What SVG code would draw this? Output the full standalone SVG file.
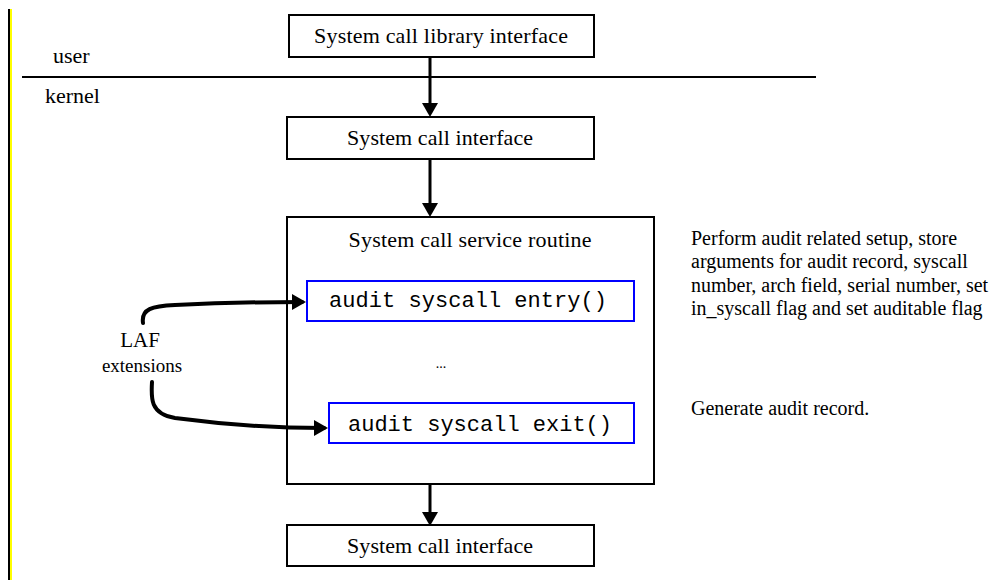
<svg xmlns="http://www.w3.org/2000/svg" width="997" height="580" viewBox="0 0 997 580">
<style>
.box{fill:#fff;stroke:#000;stroke-width:2}
.fbox{fill:#fff;stroke:#0000ff;stroke-width:2}
.t{font-family:"Liberation Serif","Times New Roman",serif;fill:#000}
.m{font-family:"Liberation Mono","Courier New",monospace;font-size:22px;fill:#000}
.c{stroke:#000;stroke-width:3;fill:none}
.cv{stroke:#000;stroke-width:4;fill:none;stroke-linecap:round;stroke-linejoin:round}
</style>
<defs>
<marker id="ah" viewBox="0 0 14 16" markerWidth="14" markerHeight="16" refX="10" refY="8" markerUnits="userSpaceOnUse" orient="auto">
<path d="M0,0 L14,8 L0,16 z" fill="#000"/>
</marker>
</defs>
<rect width="997" height="580" fill="#fff"/>
<g id="margin">
<rect x="8" y="9" width="2" height="571" fill="#000"/>
<rect x="10" y="9" width="2" height="571" fill="#ffff00"/>
</g>
<g id="divider">
<line x1="22" y1="77" x2="816" y2="77" stroke="#000" stroke-width="2"/>
<text class="t" x="53" y="63" font-size="22">user</text>
<text class="t" x="45" y="103" font-size="22">kernel</text>
</g>
<g id="lib">
<rect class="box" x="289" y="15" width="305" height="42"/>
<text class="t" x="441" y="43" font-size="22" text-anchor="middle" textLength="254" lengthAdjust="spacing">System call library interface</text>
</g>
<g id="sci1">
<rect class="box" x="287" y="117" width="307" height="42"/>
<text class="t" x="440" y="145" font-size="22" text-anchor="middle" textLength="186" lengthAdjust="spacing">System call interface</text>
</g>
<g id="service">
<rect class="box" x="287" y="217" width="367" height="267"/>
<text class="t" x="470" y="247" font-size="22" text-anchor="middle" textLength="243" lengthAdjust="spacing">System call service routine</text>
<text class="t" x="441" y="368" font-size="14" text-anchor="middle">...</text>
</g>
<g id="entry">
<rect class="fbox" x="307" y="281" width="327" height="40"/>
<text class="m" x="468" y="307" text-anchor="middle" textLength="278" lengthAdjust="spacing">audit syscall entry()</text>
</g>
<g id="exit">
<rect class="fbox" x="329" y="403" width="305" height="40"/>
<text class="m" x="480" y="431" text-anchor="middle" textLength="264" lengthAdjust="spacing">audit syscall exit()</text>
</g>
<g id="sci2">
<rect class="box" x="287" y="525" width="307" height="41"/>
<text class="t" x="440" y="553" font-size="22" text-anchor="middle" textLength="186" lengthAdjust="spacing">System call interface</text>
</g>
<g id="laf">
<text class="t" x="140" y="347" font-size="21" text-anchor="middle">LAF</text>
<text class="t" x="142" y="372" font-size="19" text-anchor="middle">extensions</text>
</g>
<g id="note1">
<text class="t" font-size="20" x="691" y="245">Perform audit related setup, store</text>
<text class="t" font-size="20" x="691" y="268">arguments for audit record, syscall</text>
<text class="t" font-size="20" x="691" y="292">number, arch field, serial number, set</text>
<text class="t" font-size="20" x="691" y="315">in_syscall flag and set auditable flag</text>
</g>
<g id="note2">
<text class="t" font-size="20" x="691" y="415">Generate audit record.</text>
</g>
<g id="connectors">
<path class="c" d="M430,57 L430,113" marker-end="url(#ah)"/>
<path class="c" d="M430,159 L430,213" marker-end="url(#ah)"/>
<path class="c" d="M430,484 L430,522" marker-end="url(#ah)"/>
<path class="cv" d="M143,323 C141,309 152,306 175,305 C215,303 250,302 302,302" marker-end="url(#ah)"/>
<path class="cv" d="M152,382 C151,398 150,414 175,418 C220,424 270,428 324,428" marker-end="url(#ah)"/>
</g>
</svg>
